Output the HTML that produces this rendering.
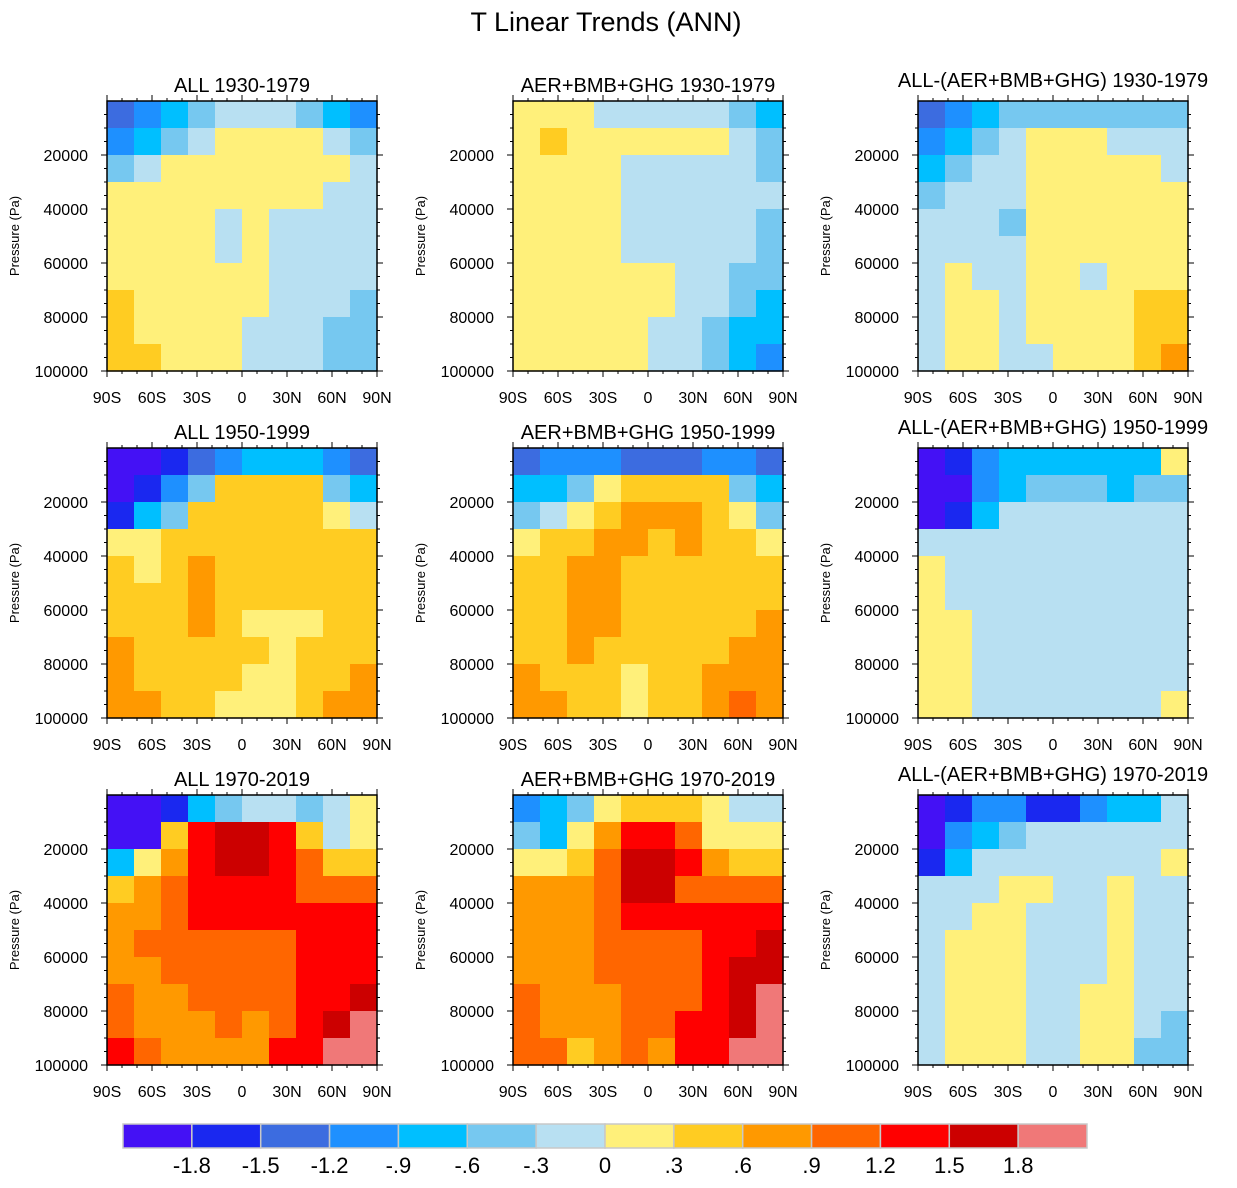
<!DOCTYPE html>
<html><head><meta charset="utf-8"><style>
body{margin:0;background:#fff;}
svg text{font-family:"Liberation Sans",sans-serif;fill:#000;}
</style></head><body>
<svg id="chart" width="1237" height="1183" xmlns="http://www.w3.org/2000/svg">
<text x="606" y="31" font-size="27" text-anchor="middle">T Linear Trends (ANN)</text>
</svg>
<script>
const levels=[-1.8,-1.5,-1.2,-0.9,-0.6,-0.3,0,0.3,0.6,0.9,1.2,1.5,1.8];
const colors=["#4411f5","#1a28f0","#3c6ce0","#1e90ff","#00bfff","#76c8f0","#b8e0f2","#fff07a","#ffcc22","#ff9900","#ff6600","#ff0000","#cc0000","#f07878"];
const latTicks=[-90,-60,-30,0,30,60,90];
const latLabels=["90S","60S","30S","0","30N","60N","90N"];
const presTicks=[20000,40000,60000,80000,100000];
const titles=["ALL 1930-1979","AER+BMB+GHG 1930-1979","ALL-(AER+BMB+GHG) 1930-1979","ALL 1950-1999","AER+BMB+GHG 1950-1999","ALL-(AER+BMB+GHG) 1950-1999","ALL 1970-2019","AER+BMB+GHG 1970-2019","ALL-(AER+BMB+GHG) 1970-2019"];
const P=-2,B=-1.65,M=-1.35,D=-1.05,C=-0.75,S=-0.45,L=-0.15,Y=0.15,G=0.45,O=0.75,R=1.05,E=1.35,K=1.65,N=2.0;
const grid1930all=[[M,D,C,S,L,L,L,S,C,D],[D,C,S,L,Y,Y,Y,Y,L,S],[S,L,Y,Y,Y,Y,Y,Y,Y,L],[Y,Y,Y,Y,Y,Y,Y,Y,L,L],[Y,Y,Y,Y,L,Y,L,L,L,L],[Y,Y,Y,Y,L,Y,L,L,L,L],[Y,Y,Y,Y,Y,Y,L,L,L,L],[G,Y,Y,Y,Y,Y,L,L,L,S],[G,Y,Y,Y,Y,L,L,L,S,S],[G,G,Y,Y,Y,L,L,L,S,S]];
const grid1930aer=[[Y,Y,Y,L,L,L,L,L,S,C],[Y,G,Y,Y,Y,Y,Y,Y,L,S],[Y,Y,Y,Y,L,L,L,L,L,S],[Y,Y,Y,Y,L,L,L,L,L,L],[Y,Y,Y,Y,L,L,L,L,L,S],[Y,Y,Y,Y,L,L,L,L,L,S],[Y,Y,Y,Y,Y,Y,L,L,S,S],[Y,Y,Y,Y,Y,Y,L,L,S,C],[Y,Y,Y,Y,Y,L,L,S,C,C],[Y,Y,Y,Y,Y,L,L,S,C,D]];
const grid1930diff=[[M,D,C,S,S,S,S,S,S,S],[D,C,S,L,Y,Y,Y,L,L,L],[C,S,L,L,Y,Y,Y,Y,Y,L],[S,L,L,L,Y,Y,Y,Y,Y,Y],[L,L,L,S,Y,Y,Y,Y,Y,Y],[L,L,L,L,Y,Y,Y,Y,Y,Y],[L,Y,L,L,Y,Y,L,Y,Y,Y],[L,Y,Y,L,Y,Y,Y,Y,G,G],[L,Y,Y,L,Y,Y,Y,Y,G,G],[L,Y,Y,L,L,Y,Y,Y,G,O]];
const grid1950all=[[P,P,B,M,D,C,C,C,D,M],[P,B,D,S,G,G,G,G,S,C],[B,C,S,G,G,G,G,G,Y,L],[Y,Y,G,G,G,G,G,G,G,G],[G,Y,G,O,G,G,G,G,G,G],[G,G,G,O,G,G,G,G,G,G],[G,G,G,O,G,Y,Y,Y,G,G],[O,G,G,G,G,G,Y,G,G,G],[O,G,G,G,G,Y,Y,G,G,O],[O,O,G,G,Y,Y,Y,G,O,O]];
const grid1950aer=[[M,D,D,D,M,M,M,D,D,M],[C,C,S,Y,G,G,G,G,S,C],[S,L,Y,G,O,O,O,G,Y,S],[Y,G,G,O,O,G,O,G,G,Y],[G,G,O,O,G,G,G,G,G,G],[G,G,O,O,G,G,G,G,G,G],[G,G,O,O,G,G,G,G,G,O],[G,G,O,G,G,G,G,G,O,O],[O,G,G,G,Y,G,G,O,O,O],[O,O,G,G,Y,G,G,O,R,O]];
const grid1950diff=[[P,B,D,C,C,C,C,C,C,Y],[P,P,D,C,S,S,S,C,S,S],[P,B,C,L,L,L,L,L,L,L],[L,L,L,L,L,L,L,L,L,L],[Y,L,L,L,L,L,L,L,L,L],[Y,L,L,L,L,L,L,L,L,L],[Y,Y,L,L,L,L,L,L,L,L],[Y,Y,L,L,L,L,L,L,L,L],[Y,Y,L,L,L,L,L,L,L,L],[Y,Y,L,L,L,L,L,L,L,Y]];
const grid1970all=[[P,P,B,C,S,L,L,S,L,Y],[P,P,G,E,K,K,E,G,L,Y],[C,Y,O,E,K,K,E,R,G,G],[G,O,R,E,E,E,E,R,R,R],[O,O,R,E,E,E,E,E,E,E],[O,R,R,R,R,R,R,E,E,E],[O,O,R,R,R,R,R,E,E,E],[R,O,O,R,R,R,R,E,E,K],[R,O,O,O,R,O,R,E,K,N],[E,R,O,O,O,O,E,E,N,N]];
const grid1970aer=[[D,C,S,Y,G,G,G,Y,L,L],[S,C,Y,O,E,E,R,Y,Y,Y],[Y,Y,G,R,K,K,E,O,G,G],[O,O,O,R,K,K,R,R,R,R],[O,O,O,R,E,E,E,E,E,E],[O,O,O,R,R,R,R,E,E,K],[O,O,O,R,R,R,R,E,K,K],[R,O,O,O,R,R,R,E,K,N],[R,O,O,O,R,R,E,E,K,N],[R,R,G,O,R,O,E,E,N,N]];
const grid1970diff=[[P,B,D,D,B,B,D,C,C,L],[P,D,C,S,L,L,L,L,L,L],[B,C,L,L,L,L,L,L,L,Y],[L,L,L,Y,Y,L,L,Y,L,L],[L,L,Y,Y,L,L,L,Y,L,L],[L,Y,Y,Y,L,L,L,Y,L,L],[L,Y,Y,Y,L,L,L,Y,L,L],[L,Y,Y,Y,L,L,Y,Y,L,L],[L,Y,Y,Y,L,L,Y,Y,L,S],[L,Y,Y,Y,L,L,Y,Y,S,S]];
const grids=[grid1930all,grid1930aer,grid1930diff,grid1950all,grid1950aer,grid1950diff,grid1970all,grid1970aer,grid1970diff];

const NS="http://www.w3.org/2000/svg";
const svg=document.getElementById('chart');
function mk(tag,attrs,parent){const e=document.createElementNS(NS,tag);for(const k in attrs)e.setAttribute(k,attrs[k]);(parent||svg).appendChild(e);return e;}
function colorFor(v){let i=0;while(i<levels.length&&v>=levels[i])i++;return colors[i];}
const colX=[107,513,918],rowY=[101,448,795],W=270,H=270;
grids.forEach((g,p)=>{
  const x0=colX[p%3],y0=rowY[Math.floor(p/3)];
  const xs=lat=>x0+(lat+90)/180*W;
  const ys=pr=>y0+pr/100000*H;
  const grp=mk('g',{});
  
  
  const nr=g.length,nc=g[0].length;
  g.forEach((row,r)=>row.forEach((v,c)=>{
    const la0=-90+180*c/nc,la1=-90+180*(c+1)/nc;
    const p0=100000*r/nr,p1=100000*(r+1)/nr;
    const rc=mk('rect',{x:xs(la0),y:ys(p0),width:xs(la1)-xs(la0)+0.6,height:ys(p1)-ys(p0)+0.6,fill:colorFor(v)},grp);
    
    
  }));
  const fr=mk('rect',{x:x0,y:y0,width:W,height:H,fill:'none',stroke:'#000','stroke-width':1.5},grp);
  
  
  for(let la=-90;la<=90;la+=10){const major=la%30===0;const len=major?6:3;const x=xs(la);
    mk('line',{x1:x,x2:x,y1:y0+H,y2:y0+H+len,stroke:'#000','stroke-width':1},grp);
    mk('line',{x1:x,x2:x,y1:y0,y2:y0-len,stroke:'#000','stroke-width':1},grp);}
  for(let pr=5000;pr<=100000;pr+=5000){const major=pr%20000===0;const len=major?6:3;const y=ys(pr);
    mk('line',{x1:x0,x2:x0-len,y1:y,y2:y,stroke:'#000','stroke-width':1},grp);
    mk('line',{x1:x0+W,x2:x0+W+len,y1:y,y2:y,stroke:'#000','stroke-width':1},grp);}
  latTicks.forEach((la,i)=>{const t=mk('text',{x:xs(la),y:y0+H+32,'font-size':16,'text-anchor':'middle'},grp);t.textContent=latLabels[i];
    });
  presTicks.forEach(pr=>{const t=mk('text',{x:x0-19,y:ys(pr)+6,'font-size':16,'text-anchor':'end'},grp);t.textContent=pr;
    });
  const yt=mk('text',{x:0,y:0,'font-size':13,'text-anchor':'middle',transform:`translate(${x0-88},${y0+135}) rotate(-90)`},grp);
  yt.textContent='Pressure (Pa)';
  
  const tt=mk('text',{x:x0+W/2+(p%3===2?0:0),y:y0-(p%3===2?14:9),'font-size':20,'text-anchor':'middle'},grp);
  tt.textContent=titles[p];
  
});
// colorbar
const cb=mk('g',{});


const cbX=123,cbW=964,cbY=1124,cbH=24,bw=cbW/colors.length;
colors.forEach((c,i)=>{const r=mk('rect',{x:cbX+i*bw,y:cbY,width:bw,height:cbH,fill:c,stroke:'#c8c8c8','stroke-width':1.5},cb);
  });
levels.forEach((l,i)=>{const t=mk('text',{x:cbX+(i+1)*bw,y:1173,'font-size':22,'text-anchor':'middle'},cb);
  t.textContent=l===0?'0':(Math.abs(l)<1?(l<0?'-':'')+String(Math.abs(l)).replace('0.','.'):String(l));
  });
</script>
</body></html>
